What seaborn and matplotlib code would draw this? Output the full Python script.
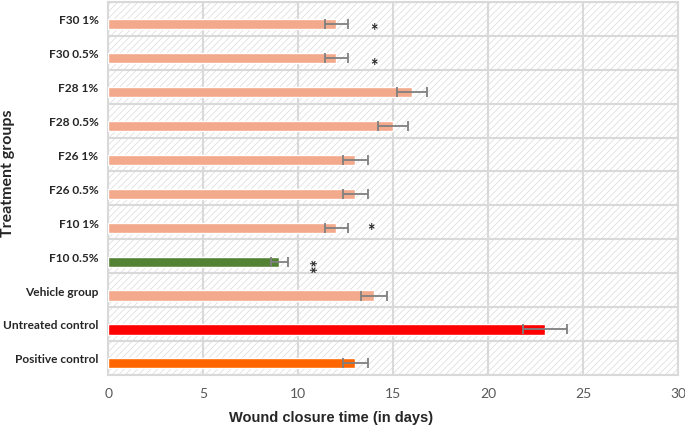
import numpy as np
import matplotlib
matplotlib.use("Agg")
import matplotlib.pyplot as plt
import matplotlib.patches as mpatches
import seaborn as sns

groups = ['F30 1%', 'F30 0.5%', 'F28 1%', 'F28 0.5%', 'F26 1%', 'F26 0.5%',
          'F10 1%', 'F10 0.5%', 'Vehicle group', 'Untreated control', 'Positive control']
closure_days = [12, 12, 16, 15, 13, 13, 12, 9, 14, 23, 13]
errors = [0.6, 0.6, 0.8, 0.8, 0.65, 0.65, 0.6, 0.45, 0.7, 1.15, 0.65]
bar_colors = ['#F3A98B'] * 7 + ['#548235', '#F3A98B', '#FF0000', '#FF6600']
# significance marks: (group, x position, vertical offset, label, rotation)
stars = [('F30 1%', 14.0, 0.35, '*', 0), ('F30 0.5%', 14.0, 0.38, '*', 0),
         ('F10 1%', 13.8, 0.25, '*', 0), ('F10 0.5%', 11.05, 0.25, '**', 90)]

sns.set_style('white')
plt.rcParams['font.family'] = ['Lato', 'DejaVu Sans']
plt.rcParams['hatch.linewidth'] = 0.5

fig = plt.figure(figsize=(6.85, 4.31), dpi=100)
ax = fig.add_axes([0.158, 0.128, 0.832, 0.865])

# hatched background
bg = mpatches.Rectangle((0, 0), 1, 1, transform=ax.transAxes, facecolor='white',
                        edgecolor='#DADADA', linewidth=0, hatch='/////', zorder=0)
ax.add_patch(bg)

shift = 0.16
sns.barplot(x=closure_days, y=groups, hue=groups, palette=bar_colors, orient='h',
            width=0.3, legend=False, saturation=1, ax=ax, zorder=3)
for p in ax.patches:
    if p is bg:
        continue
    p.set_y(p.get_y() + shift)

pos = np.arange(len(groups)) + shift
ax.errorbar(closure_days, pos, xerr=errors, fmt='none', ecolor='#7F7F7F',
            elinewidth=1.3, capsize=3.5, capthick=1.3, zorder=4)

for g, xs, dy, lab, rot in stars:
    i = groups.index(g)
    ax.text(xs, i + dy, lab, ha='center', va='center', fontsize=13,
            fontweight='bold', rotation=rot, zorder=5)

ax.set_xlim(0, 30)
ax.set_ylim(len(groups) - 0.5, -0.5)
ax.set_xticks(range(0, 31, 5))
for xv in range(0, 31, 5):
    ax.axvline(xv, color='#D9D9D9', lw=1.5, zorder=1)
for yv in np.arange(-0.5, len(groups), 1):
    ax.axhline(yv, color='#D9D9D9', lw=1.5, zorder=1)

for s in ax.spines.values():
    s.set_color('#D9D9D9')
    s.set_linewidth(1.5)

ax.tick_params(axis='both', length=0)
ax.tick_params(axis='x', labelsize=10, labelcolor='#595959', pad=9)
ax.tick_params(axis='y', labelsize=8.6, pad=7)
for t in ax.get_yticklabels():
    t.set_fontweight('bold')

ax.set_xlabel('Wound closure time (in days)', fontsize=10.5, fontweight='bold',
              family=['Liberation Sans', 'DejaVu Sans'])
ax.xaxis.set_label_coords(0.391, -0.095)
ax.set_ylabel('Treatment groups', fontsize=11.5, fontweight='bold')
ax.yaxis.set_label_coords(-0.163, 0.544)

fig.savefig('out.png', dpi=100)
